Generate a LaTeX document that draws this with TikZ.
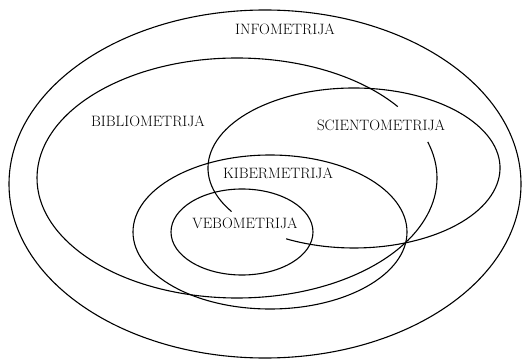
\documentclass[tikz,border=0pt]{standalone}
\begin{document}
\begin{tikzpicture}[x=1pt,y=1pt,
  set/.style={line width=1.1pt,black},
  setname/.style={inner sep=0pt,font=\fontsize{15}{17}\selectfont}]
\useasboundingbox (0,0) rectangle (524,359);
% outer set
\draw[set] (265,175) ellipse [x radius=256, y radius=174];
% bibliometrics: open arc
\draw[set] (237,181) ++(36.5:200 and 120)
  arc [start angle=36.5, end angle=377.5, x radius=200, y radius=120];
% scientometrics: open arc
\draw[set] (354,191) ++(213:146 and 80)
  arc [start angle=213, end angle=-117.7, x radius=146, y radius=80];
% cybermetrics and webometrics
\draw[set] (270,127) ellipse [x radius=137, y radius=77];
\draw[set] (242,127) ellipse [x radius=71, y radius=43];
% labels
\node[setname] (info)  at (285,330) {INFOMETRIJA};
\node[setname] (biblio) at (148,238) {BIBLIOMETRIJA};
\node[setname] (scient) at (381,234) {SCIENTOMETRIJA};
\node[setname] (kiber) at (278,186) {KIBERMETRIJA};
\node[setname] (vebo)  at (245,136) {VEBOMETRIJA};
\end{tikzpicture}
\end{document}
